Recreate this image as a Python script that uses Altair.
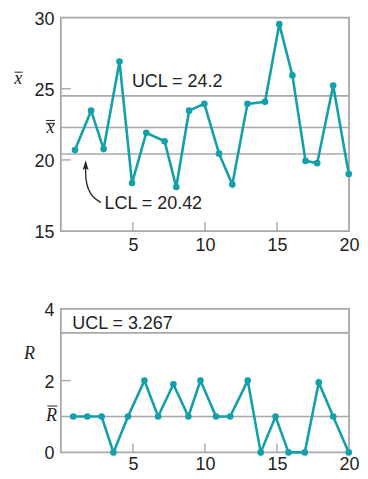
import altair as alt
import pandas as pd

TEAL = "#14a0ab"
GRAY = "#a8a8a8"
INK = "#222222"
SANS = "Liberation Sans"
SERIF = "Liberation Serif"

# ---------------- X-bar chart data ----------------
xbar_sample = [0.98, 2.1, 2.97, 4.07, 4.94, 5.93, 7.2, 8.01, 8.9, 9.96,
               10.98, 11.9, 12.95, 14.17, 15.16, 16.07, 16.98, 17.79, 18.9, 19.98]
xbar_values = [20.69, 23.46, 20.76, 26.91, 18.37, 21.91, 21.31, 18.09, 23.46, 23.94,
               20.44, 18.27, 23.94, 24.08, 29.54, 25.94, 19.93, 19.77, 25.23, 19.01]
xbar_limits = [24.5, 22.28, 20.42]          # UCL line, centre line, LCL line
xbar_x_ticks = [5, 10, 15, 20]
xbar_y_ticks = [15, 20, 25, 30]
xbar_inner_xticks = [5, 10, 15]
xbar_inner_yticks = [20, 25]
xbar_texts = ["UCL = 24.2", "LCL = 20.42"]
xbar_text_x = [4.93, 3.03]
xbar_text_y = [25.5, 16.87]
arrow_x = [2.78, 2.22, 1.88, 1.72, 1.72]
arrow_y = [17.01, 17.35, 17.93, 18.62, 19.5]
arrow_head_x = [1.72]
arrow_head_y = [19.63]

# ---------------- R chart data ----------------
r_sample = [0.86, 1.84, 2.83, 3.65, 4.66, 5.8, 6.75, 7.81, 8.85, 9.69,
            10.77, 11.75, 12.97, 13.87, 14.9, 15.8, 16.93, 17.9, 18.9, 19.98]
r_values = [1, 1, 1, 0, 1, 2, 1, 1.9, 1, 2, 1, 1, 2, 0, 1, 0, 0, 1.95, 1, 0]
r_limits = [3.33, 1.0]
r_x_ticks = [5, 10, 15, 20]
r_y_ticks = [0, 2, 4]
r_inner_xticks = [5, 10, 15]
r_inner_yticks = [2]
r_texts = ["UCL = 3.267"]
r_text_x = [0.79]
r_text_y = [3.58]

W = 289
H_TOP = 214
H_BOT = 144


def one():
    return pd.DataFrame({"k": [0]})


def panel(sample, values, limits, ydom, xticks, yticks, inner_x, inner_y,
          texts, tx, ty, H, xpad):
    sx = alt.Scale(domain=[0, 20], nice=False, zero=False)
    sy = alt.Scale(domain=ydom, nice=False, zero=False)
    xax = alt.Axis(values=xticks, ticks=False, domain=False, grid=False, title=None,
                   labelFont=SANS, labelFontSize=18, labelColor=INK, labelPadding=xpad,
                   labelFlush=False, labelOverlap=False)
    yax = alt.Axis(values=yticks, ticks=False, domain=False, grid=False, title=None,
                   labelFont=SANS, labelFontSize=18, labelColor=INK, labelPadding=7,
                   labelOffset=1.5, labelOverlap=False)

    def X(f):
        return alt.X(f, scale=sx, axis=xax)

    def Y(f):
        return alt.Y(f, scale=sy, axis=yax)

    df = pd.DataFrame({"s": sample, "v": values})
    lim = alt.Chart(pd.DataFrame({"v": limits})).mark_rule(
        color=GRAY, strokeWidth=1.6).encode(y=Y("v:Q"))
    tx_rules = alt.Chart(pd.DataFrame({"s": inner_x})).mark_rule(
        color=GRAY, strokeWidth=1.4).encode(
        x=X("s:Q"), y=alt.value(H), y2=alt.value(H - 9))
    ty_rules = alt.Chart(pd.DataFrame({"v": inner_y})).mark_rule(
        color=GRAY, strokeWidth=1.4).encode(
        y=Y("v:Q"), x=alt.value(0), x2=alt.value(10))
    line = alt.Chart(df).mark_line(color=TEAL, strokeWidth=2.6).encode(
        x=X("s:Q"), y=Y("v:Q"))
    pts = alt.Chart(df).mark_circle(color=TEAL, size=44, opacity=1).encode(
        x=X("s:Q"), y=Y("v:Q"))
    txt = alt.Chart(pd.DataFrame({"label": texts, "s": tx, "v": ty})).mark_text(
        align="left", baseline="middle", font=SANS, fontSize=18, color=INK).encode(
        x=X("s:Q"), y=Y("v:Q"), text="label:N")
    return [lim, tx_rules, ty_rules, line, pts, txt], X, Y


# ---- top panel ----
layers_t, Xt, Yt = panel(xbar_sample, xbar_values, xbar_limits, [15, 30],
                         xbar_x_ticks, xbar_y_ticks, xbar_inner_xticks,
                         xbar_inner_yticks, xbar_texts, xbar_text_x, xbar_text_y, H_TOP, 6)
arrow = alt.Chart(pd.DataFrame({"s": arrow_x, "v": arrow_y, "o": list(range(len(arrow_x)))})).mark_line(
    color=INK, strokeWidth=1.3, interpolate="basis").encode(
    x=Xt("s:Q"), y=Yt("v:Q"), order="o:Q")
head = alt.Chart(pd.DataFrame({"s": arrow_head_x, "v": arrow_head_y})).mark_point(
    shape="M0,-1L0.6,1L0,0.55L-0.6,1Z", filled=True, size=100, color=INK, opacity=1).encode(
    x=Xt("s:Q"), y=Yt("v:Q"))

sym_style = dict(font=SERIF, fontStyle="italic", fontSize=18, color=INK, baseline="alphabetic", align="center")
xbar_title = alt.Chart(one()).mark_text(text="x", **sym_style).encode(x=alt.value(-42.7), y=alt.value(66.6))
xbar_title_bar = alt.Chart(one()).mark_rule(color=INK, strokeWidth=1).encode(
    x=alt.value(-46.5), x2=alt.value(-38.5), y=alt.value(54.7))
xdbar = alt.Chart(one()).mark_text(text="x", **sym_style).encode(x=alt.value(-10.5), y=alt.value(115.9))
xdbar_b1 = alt.Chart(one()).mark_rule(color=INK, strokeWidth=1).encode(
    x=alt.value(-15), x2=alt.value(-6), y=alt.value(103.1))
xdbar_b2 = alt.Chart(one()).mark_rule(color=INK, strokeWidth=1).encode(
    x=alt.value(-15), x2=alt.value(-6), y=alt.value(106))

top = alt.layer(*layers_t, arrow, head, xbar_title, xbar_title_bar, xdbar, xdbar_b1, xdbar_b2).properties(
    width=W, height=H_TOP)

# ---- bottom panel ----
layers_b, Xb, Yb = panel(r_sample, r_values, r_limits, [0, 4],
                         r_x_ticks, r_y_ticks, r_inner_xticks, r_inner_yticks,
                         r_texts, r_text_x, r_text_y, H_BOT, 3)
r_title = alt.Chart(one()).mark_text(text="R", **sym_style).encode(x=alt.value(-31.5), y=alt.value(50.6))
rbar = alt.Chart(one()).mark_text(text="R", **sym_style).encode(x=alt.value(-9.5), y=alt.value(113))
rbar_b = alt.Chart(one()).mark_rule(color=INK, strokeWidth=1).encode(
    x=alt.value(-13.5), x2=alt.value(-3.5), y=alt.value(97.5))

bottom = alt.layer(*layers_b, r_title, rbar, rbar_b).properties(width=W, height=H_BOT)

chart = alt.vconcat(top, bottom, spacing=44).properties(
    padding={"left": 5, "top": 0, "right": 0, "bottom": 0}
).configure_view(stroke=GRAY, strokeWidth=1.8)

chart.save("out.html", embed_options={"renderer": "svg", "actions": False})
